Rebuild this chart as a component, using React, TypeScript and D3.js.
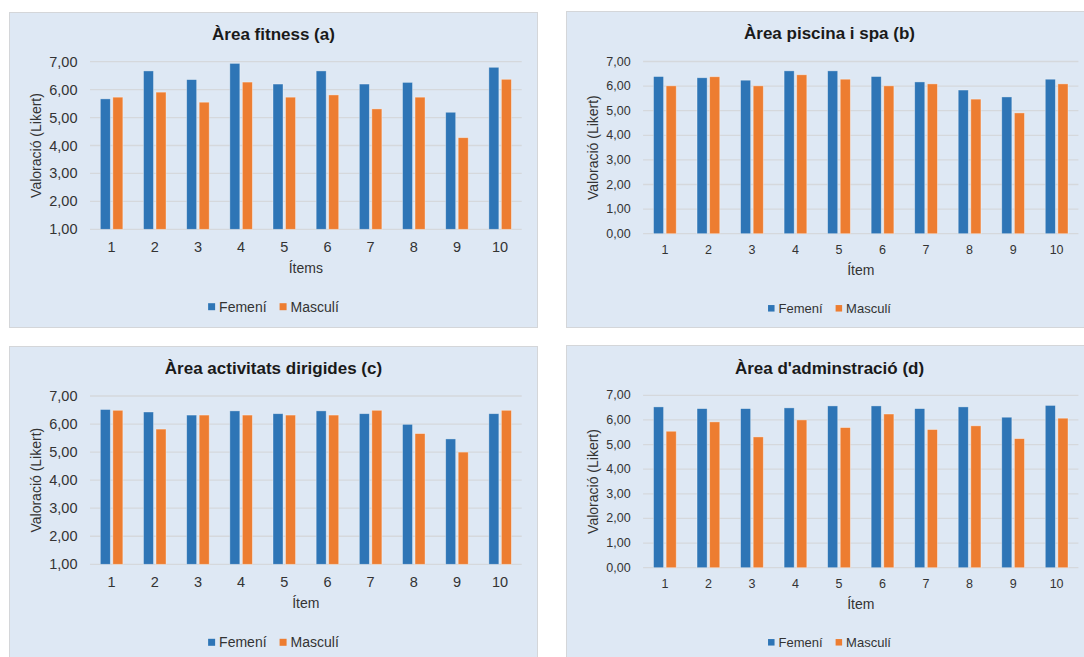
import React from "react";
import * as d3 from "d3";

const ITEMS = ["1", "2", "3", "4", "5", "6", "7", "8", "9", "10"];
const SERIES = ["Femení", "Masculí"];
const COLORS = ["#2E75B6", "#ED7D31"];

const FITNESS_FEMENI = [5.67, 6.67, 6.36, 6.94, 6.2, 6.67, 6.2, 6.26, 5.19, 6.8];
const FITNESS_MASCULI = [5.73, 5.91, 5.55, 6.27, 5.73, 5.81, 5.31, 5.73, 4.28, 6.37];
const PISCINA_FEMENI = [6.39, 6.34, 6.24, 6.62, 6.62, 6.39, 6.17, 5.84, 5.56, 6.28];
const PISCINA_MASCULI = [6.01, 6.38, 6.01, 6.46, 6.28, 6.01, 6.09, 5.47, 4.91, 6.09];
const ACTIVITATS_FEMENI = [6.52, 6.43, 6.32, 6.47, 6.37, 6.47, 6.37, 5.99, 5.47, 6.37];
const ACTIVITATS_MASCULI = [6.49, 5.82, 6.32, 6.32, 6.32, 6.32, 6.49, 5.66, 5.0, 6.49];
const ADMIN_FEMENI = [6.53, 6.46, 6.46, 6.49, 6.57, 6.57, 6.46, 6.53, 6.11, 6.59];
const ADMIN_MASCULI = [5.54, 5.92, 5.31, 6.0, 5.69, 6.24, 5.61, 5.76, 5.24, 6.07];

const TICKS_1_7 = [1, 2, 3, 4, 5, 6, 7];
const TICKS_0_7 = [0, 1, 2, 3, 4, 5, 6, 7];

const FONT = "'Liberation Sans', Arial, Helvetica, sans-serif";
const fmt = (v: number) => d3.format(".2f")(v).replace(".", ",");

type PanelProps = {
  frame: [number, number, number, number];
  title: string;
  titleY: number;
  femeni: number[];
  masculi: number[];
  ticks: number[];
  plot: [number, number, number, number]; // left, right, top(y of max), bottom(y of min)
  tickFont: number;
  xLabelDy: number;
  xTitle: string;
  xTitleY: number;
  yTitleX: number;
  legendY: number;
  legendFont: number;
};

function Panel(p: PanelProps) {
  const [fx, fy, fw, fh] = p.frame;
  const [left, right, top, bottom] = p.plot;
  const yMin = p.ticks[0];
  const yMax = p.ticks[p.ticks.length - 1];
  const x = d3.scaleBand<string>().domain(ITEMS).range([left, right]).padding(0);
  const inner = d3
    .scaleBand<string>()
    .domain(SERIES)
    .range([0, x.bandwidth()])
    .paddingInner(0.2)
    .paddingOuter(0.824);
  const y = d3.scaleLinear().domain([yMin, yMax]).range([bottom, top]);
  const cx = fx + fw / 2;
  const values = [p.femeni, p.masculi];

  // legend layout
  const sq = p.legendFont * 0.5;
  const w0 = p.legendFont * 3.39;
  const w1 = p.legendFont * 3.45;
  const gapSqText = 4;
  const gapItems = 13;
  const totalW = sq + gapSqText + w0 + gapItems + sq + gapSqText + w1;
  const lx0 = cx - totalW / 2;
  const lx1 = lx0 + sq + gapSqText + w0 + gapItems;
  const legendItems = [
    { x: lx0, label: SERIES[0], color: COLORS[0] },
    { x: lx1, label: SERIES[1], color: COLORS[1] },
  ];

  return (
    <g>
      <rect x={fx} y={fy} width={fw} height={fh} fill="#DEE8F4" stroke="#D4D6D9" strokeWidth={1} />
      <text
        x={cx}
        y={p.titleY}
        textAnchor="middle"
        dominantBaseline="central"
        fontFamily={FONT}
        fontWeight="bold"
        fontSize={17}
        fill="#1a1a1a"
      >
        {p.title}
      </text>
      {p.ticks.map((t) => (
        <g key={t}>
          <line x1={left} x2={right} y1={y(t)} y2={y(t)} stroke="#D5D8DC" strokeWidth={1.3} />
          <text
            x={left - 12.5}
            y={y(t)}
            textAnchor="end"
            dominantBaseline="central"
            fontFamily={FONT}
            fontSize={p.tickFont}
            fill="#333"
          >
            {fmt(t)}
          </text>
        </g>
      ))}
      {ITEMS.map((it, i) => (
        <g key={it}>
          {SERIES.map((s, k) => {
            const v = values[k][i];
            const bx = (x(it) as number) + (inner(s) as number);
            return (
              <rect
                key={s}
                x={bx}
                y={y(v)}
                width={inner.bandwidth()}
                height={y(yMin) - y(v)}
                fill={COLORS[k]}
                stroke="rgba(255,255,255,0.45)"
                strokeWidth={0.8}
              />
            );
          })}
          <text
            x={(x(it) as number) + x.bandwidth() / 2}
            y={bottom + p.xLabelDy}
            textAnchor="middle"
            dominantBaseline="central"
            fontFamily={FONT}
            fontSize={p.tickFont}
            fill="#333"
          >
            {it}
          </text>
        </g>
      ))}
      <text
        x={(left + right) / 2}
        y={p.xTitleY}
        textAnchor="middle"
        dominantBaseline="central"
        fontFamily={FONT}
        fontSize={14}
        fill="#333"
      >
        {p.xTitle}
      </text>
      <text
        transform={`translate(${p.yTitleX},${(top + bottom) / 2}) rotate(-90)`}
        textAnchor="middle"
        dominantBaseline="central"
        fontFamily={FONT}
        fontSize={14}
        fill="#333"
      >
        Valoració (Likert)
      </text>
      {legendItems.map((li) => (
        <g key={li.label}>
          <rect x={li.x} y={p.legendY - sq / 2} width={sq} height={sq} fill={li.color} />
          <text
            x={li.x + sq + gapSqText}
            y={p.legendY}
            dominantBaseline="central"
            fontFamily={FONT}
            fontSize={p.legendFont}
            fill="#333"
          >
            {li.label}
          </text>
        </g>
      ))}
    </g>
  );
}

export default function App() {
  return (
    <svg
      width={1084}
      height={657}
      style={{ position: "absolute", left: 0, top: 0, background: "#fff" }}
    >
      <Panel
        frame={[9.5, 12.5, 528, 315]}
        title="Àrea fitness (a)"
        titleY={34.3}
        femeni={FITNESS_FEMENI}
        masculi={FITNESS_MASCULI}
        ticks={TICKS_1_7}
        plot={[90, 521.7, 61.7, 229.3]}
        tickFont={14.5}
        xLabelDy={18}
        xTitle="Ítems"
        xTitleY={268.3}
        yTitleX={36.2}
        legendY={306.7}
        legendFont={14}
      />
      <Panel
        frame={[566.5, 11.5, 526, 316]}
        title="Àrea piscina i spa (b)"
        titleY={33.3}
        femeni={PISCINA_FEMENI}
        masculi={PISCINA_MASCULI}
        ticks={TICKS_0_7}
        plot={[643.1, 1078.4, 61.5, 233.7]}
        tickFont={12.5}
        xLabelDy={16.3}
        xTitle="Ítem"
        xTitleY={270}
        yTitleX={593.4}
        legendY={308.3}
        legendFont={13}
      />
      <Panel
        frame={[9.5, 346.5, 528, 320]}
        title="Àrea activitats dirigides (c)"
        titleY={368.3}
        femeni={ACTIVITATS_FEMENI}
        masculi={ACTIVITATS_MASCULI}
        ticks={TICKS_1_7}
        plot={[90, 521.7, 396, 564.3]}
        tickFont={14.5}
        xLabelDy={18}
        xTitle="Ítem"
        xTitleY={603.3}
        yTitleX={36.2}
        legendY={642.3}
        legendFont={14}
      />
      <Panel
        frame={[566.5, 345.5, 526, 320]}
        title="Àrea d'adminstració (d)"
        titleY={368.3}
        femeni={ADMIN_FEMENI}
        masculi={ADMIN_MASCULI}
        ticks={TICKS_0_7}
        plot={[643.1, 1078.4, 395.3, 567.7]}
        tickFont={12.5}
        xLabelDy={16.3}
        xTitle="Ítem"
        xTitleY={604}
        yTitleX={593.4}
        legendY={642.3}
        legendFont={13}
      />
    </svg>
  );
}
